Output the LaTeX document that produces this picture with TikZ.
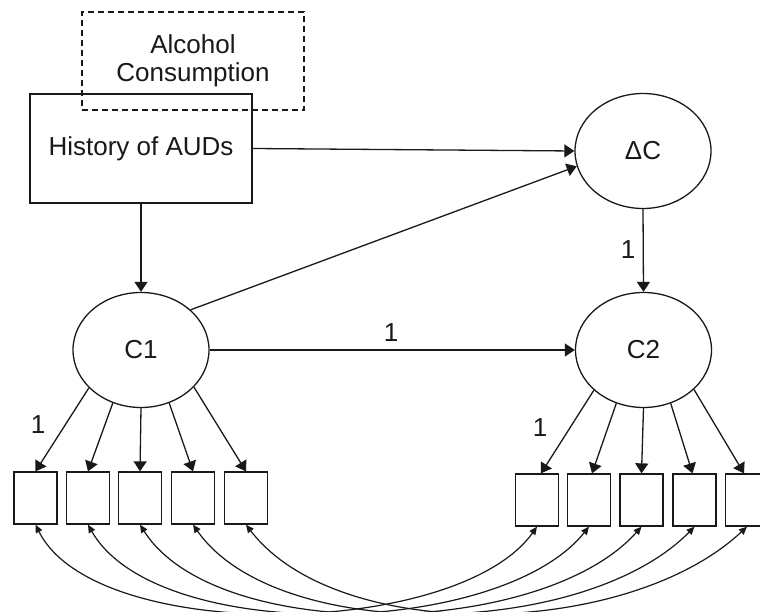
\documentclass[tikz,border=0pt]{standalone}
\usepackage{fontspec}
\setmainfont{Liberation Sans}
\usetikzlibrary{arrows.meta,shapes.geometric}
\begin{document}
\begin{tikzpicture}[x=1pt,y=-1pt,
  every node/.style={font=\fontsize{26}{30}\selectfont, text=black!90},
  line/.style={draw=black!90, line width=1.3pt},
  arr/.style={line, -{Triangle[length=10pt,width=13pt]}},
  cov/.style={line, line width=1.2pt, {Triangle[length=8pt,width=7pt]}-{Triangle[length=8pt,width=7pt]}},
  lat/.style={ellipse, draw=black!90, line width=1.3pt, minimum width=136pt, minimum height=115pt, inner sep=0pt},
  obs/.style={rectangle, draw=black!90, line width=1.3pt, minimum width=43pt, minimum height=52pt, inner sep=0pt},
  lbl/.style={inner sep=0pt}]
\fill[white] (0,0) rectangle (760,612);
\useasboundingbox (0,0) rectangle (760,612);

% dashed box
\node[rectangle, draw=black!90, line width=1.3pt, dash pattern=on 6pt off 4pt,
      minimum width=222pt, minimum height=98pt, align=center, inner sep=0pt]
      (alc) at (193,61) {Alcohol\\[-2pt]Consumption};
% history box
\node[rectangle, draw=black!90, line width=1.3pt, minimum width=222pt, minimum height=109pt, inner sep=0pt]
      (hist) at (141,148.5) {History of AUDs};

% latent variables
\node[lat] (dc) at (643,151) {ΔC};
\node[lat] (c1) at (141,350) {C1};
\node[lat] (c2) at (643.5,350) {C2};

% observed indicators
\foreach \i/\x in {1/35.5,2/88,3/140,4/193,5/246}
  \node[obs] (l\i) at (\x,498) {};
\foreach \i/\x in {1/537,2/589,3/641.5,4/694.5,5/747}
  \node[obs] (r\i) at (\x,500) {};

% structural paths
\draw[arr] (hist.east) -- (dc.west);
\draw[arr] (hist.south) -- (c1.north);
\draw[arr] (c1.39) -- (dc.193);
\draw[arr] (c1.east) -- (c2.west);
\draw[arr] (dc.south) -- (c2.north);

% loadings
\draw[arr] (c1.216) -- (l1.north);
\draw[arr] (c1.242) -- (l2.north);
\draw[arr] (c1.270) -- (l3.north);
\draw[arr] (c1.298) -- (l4.north);
\draw[arr] (c1.325) -- (l5.north);
\draw[arr] (c2.219) -- ([xshift=4pt]r1.north);
\draw[arr] (c2.243) -- ([xshift=3pt]r2.north);
\draw[arr] (c2.270) -- (r3.north);
\draw[arr] (c2.297) -- ([xshift=-2pt]r4.north);
\draw[arr] (c2.322) -- ([xshift=-3pt]r5.north);

% labels
\node[lbl] (k1) at (391,333) {1};
\node[lbl] (k2) at (628,250) {1};
\node[lbl] (k3) at (38,425) {1};
\node[lbl] (k4) at (540,428) {1};

% residual covariances
\foreach \i in {1,...,5}{
  \pgfmathsetmacro{\ax}{60+8*(\i-1)}
  \pgfmathsetmacro{\bx}{-80-10*(\i-1)}
  \draw[cov] (l\i.south) .. controls +(\ax,120) and +(\bx,112) .. (r\i.south);
}
\end{tikzpicture}
\end{document}
